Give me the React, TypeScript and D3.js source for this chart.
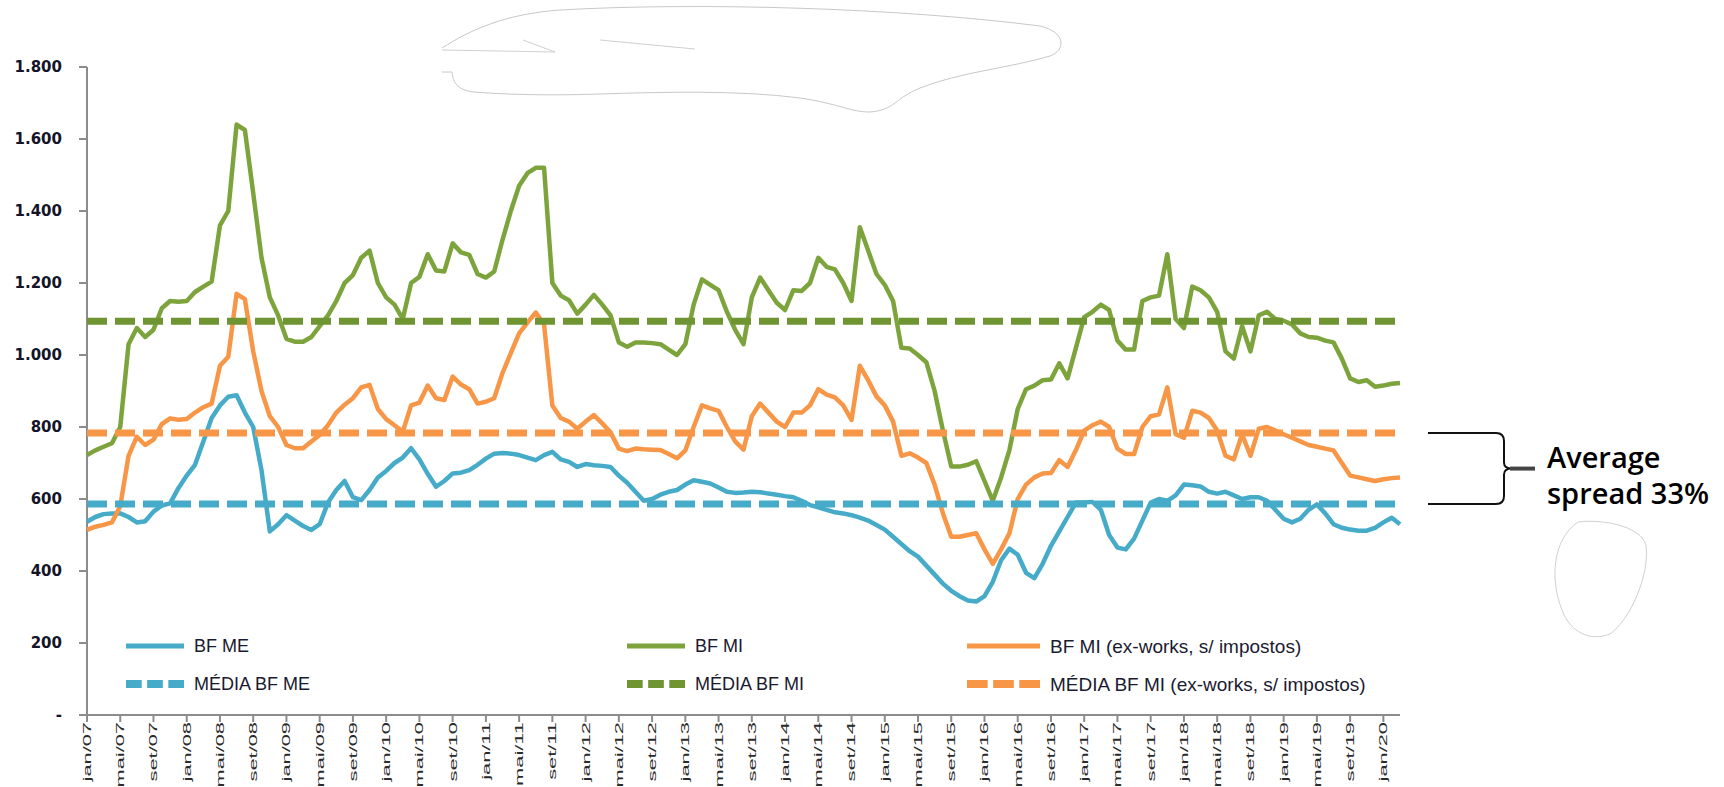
import React from "react";
import * as d3 from "d3";

// monthly series jan/07 .. mar/20
const bfME = [
  537, 550, 558, 560, 560, 550, 535, 538, 565, 582,
  588, 630, 665, 695, 760, 825, 860, 884, 888, 840,
  800, 680, 510, 530, 555, 540, 525, 514, 530, 590,
  625, 650, 605, 597, 625, 660, 678, 700, 715, 741,
  710, 670, 634, 650, 671, 673, 680, 695, 712, 726,
  728, 726, 722, 715, 708, 722, 731, 710, 703, 689,
  697, 694, 692, 689, 665, 645, 620, 595, 600, 612,
  620, 625, 640, 652, 648, 643, 632, 620, 617, 618,
  620, 619, 615, 612, 608, 605, 595, 583, 577, 570,
  563, 560, 555, 548, 540, 528, 515, 495, 475, 455,
  440, 415, 390, 365, 345, 330, 318, 315, 330, 370,
  430, 462, 445, 395, 380, 420, 470, 510, 550, 590,
  590, 592, 570, 500, 465, 460, 490, 540, 590, 600,
  595, 610, 640, 638, 635, 620, 615, 620, 610, 600,
  605, 605, 595, 570, 545, 535, 545, 570, 585, 560,
  530, 520, 515, 512, 512, 520, 535, 548, 530,
];

const bfMI = [
  722, 735, 745, 755, 800, 1030, 1075, 1050, 1070, 1130,
  1150, 1148, 1150, 1175, 1190, 1204, 1360, 1400, 1640, 1625,
  1450, 1270, 1160, 1110, 1045, 1037, 1037, 1050, 1080, 1110,
  1150, 1200, 1222, 1270, 1290, 1200, 1160, 1140, 1100, 1200,
  1217, 1280, 1235, 1232, 1310, 1285, 1278, 1225, 1215, 1232,
  1320, 1400, 1470, 1505, 1520, 1520, 1200, 1165, 1152, 1115,
  1140, 1167, 1140, 1110, 1035, 1023, 1035, 1035, 1033, 1030,
  1015, 1000, 1030, 1140, 1210, 1195, 1180, 1120, 1070, 1030,
  1160, 1215, 1180, 1145, 1125, 1180, 1178, 1200, 1270, 1245,
  1238, 1200, 1150, 1355, 1290, 1225, 1195, 1150, 1020, 1018,
  1000, 980, 900, 790, 690, 690, 695, 705, 650, 595,
  660, 736, 850, 905, 915, 930, 932, 977, 935, 1020,
  1105, 1120, 1140, 1125, 1040, 1015, 1015, 1150, 1160, 1165,
  1280, 1100, 1075, 1190, 1180, 1160, 1120, 1010, 990, 1080,
  1010, 1110, 1120, 1100, 1095, 1085, 1060, 1050, 1048, 1040,
  1035, 990, 935, 925, 930, 912, 915, 920, 922,
];

const bfMIex = [
  514, 523, 528, 535, 580, 720, 773, 750, 765, 808,
  824, 820, 822, 840, 855, 865, 970, 995, 1170, 1155,
  1010, 900, 830, 800, 750, 741, 741, 760, 778, 805,
  840, 862, 880, 910, 917, 850, 822, 805, 787, 860,
  868, 915, 880, 875, 940, 918, 905, 865, 870, 880,
  950, 1005, 1060, 1090, 1118, 1085, 860, 825, 815, 795,
  815, 833, 810, 785, 740, 733, 740, 738, 737, 736,
  725, 713, 735, 800, 860, 852, 845, 800, 760, 737,
  830, 865, 840, 815, 800, 840, 840, 860, 905, 890,
  882, 860, 820, 970, 930, 885, 860, 815, 720, 727,
  715, 700, 640, 560, 495, 495, 500, 505, 460, 420,
  460, 505, 600, 640, 660, 671, 672, 708, 689, 736,
  790, 805, 815, 800, 740, 725, 725, 800, 830, 835,
  910, 780, 770, 845, 840, 825, 790, 720, 710, 780,
  720, 795, 800, 790, 780, 770, 760, 750, 745, 740,
  735, 700, 665, 660, 655, 650, 655, 658, 660,
];

const mediaME = 586;
const mediaMI = 1094;
const mediaMIex = 783;

const yTicks = [0, 200, 400, 600, 800, 1000, 1200, 1400, 1600, 1800];

const xTickLabels = [
  "jan/07", "mai/07", "set/07", "jan/08", "mai/08", "set/08", "jan/09", "mai/09", "set/09",
  "jan/10", "mai/10", "set/10", "jan/11", "mai/11", "set/11", "jan/12", "mai/12", "set/12",
  "jan/13", "mai/13", "set/13", "jan/14", "mai/14", "set/14", "jan/15", "mai/15", "set/15",
  "jan/16", "mai/16", "set/16", "jan/17", "mai/17", "set/17", "jan/18", "mai/18", "set/18",
  "jan/19", "mai/19", "set/19", "jan/20",
];

const legendLabels = [
  "BF ME", "BF MI", "BF MI (ex-works, s/ impostos)",
  "MÉDIA BF ME", "MÉDIA BF MI", "MÉDIA BF MI (ex-works, s/ impostos)",
];

const BLUE = "#46abc8";
const GREEN = "#7da43c";
const GREEN_DK = "#6e9532";
const ORANGE = "#f79646";

const W = 1724;
const H = 787;

const fmt = d3.formatLocale({ decimal: ",", thousands: ".", grouping: [3], currency: ["", ""] }).format(",");

export default function App() {
  const x = d3.scaleLinear().domain([0, bfME.length - 1]).range([87, 1400]);
  const y = d3.scaleLinear().domain([0, 1800]).range([715, 67]);
  const line = d3.line<number>().x((_, i) => x(i)).y((d) => y(d));

  const solid = [
    { data: bfME, color: BLUE },
    { data: bfMI, color: GREEN },
    { data: bfMIex, color: ORANGE },
  ];
  const means = [
    { v: mediaME, color: BLUE },
    { v: mediaMI, color: GREEN_DK },
    { v: mediaMIex, color: ORANGE },
  ];

  // legend: 2 rows x 3 cols
  const legCols = [126, 627, 967];
  const legLen = [58, 58, 73];
  const legRows = [646, 684];
  const legColors = [BLUE, GREEN, ORANGE, BLUE, GREEN_DK, ORANGE];

  const yTop = y(mediaMIex);
  const yBot = y(mediaME);
  const yMid = (yTop + yBot) / 2;
  const bx0 = 1428, bx1 = 1504;
  const bracket =
    `M${bx0},${yTop} L${bx1 - 8},${yTop} Q${bx1},${yTop} ${bx1},${yTop + 8} ` +
    `L${bx1},${yMid - 6} Q${bx1},${yMid} ${bx1 + 8},${yMid} ` +
    `Q${bx1},${yMid} ${bx1},${yMid + 6} L${bx1},${yBot - 8} ` +
    `Q${bx1},${yBot} ${bx1 - 8},${yBot} L${bx0},${yBot}`;

  return (
    <svg width={W} height={H} style={{ position: "absolute", left: 0, top: 0, background: "#fff" }}>
      {/* scribbles over the original title */}
      <path
        d="M442,48 C470,30 505,14 560,10 C700,2 900,8 1040,26 C1066,32 1066,50 1050,56 C1010,68 960,72 920,88 C895,98 895,110 870,112 C850,112 840,104 800,98 C740,90 660,92 600,94 C540,96 500,94 474,92 C455,90 453,80 452,72 L442,72"
        fill="#fff" stroke="#c8c8c8" strokeWidth={1}
      />
      <path d="M442,50 L555,52 L523,40 M600,40 L695,49" fill="none" stroke="#d0d0d0" strokeWidth={1} />
      <path
        d="M1578,522 C1600,519 1640,525 1646,545 C1650,575 1630,620 1610,634 C1590,642 1570,632 1562,610 C1550,580 1552,540 1578,522 Z"
        fill="#fff" stroke="#d0d0d0" strokeWidth={1}
      />

      {/* axes */}
      <line x1={87} x2={87} y1={y(1800)} y2={y(0)} stroke="#8c8c8c" strokeWidth={2} />
      <line x1={80} x2={1400} y1={y(0)} y2={y(0)} stroke="#8c8c8c" strokeWidth={2} />
      {yTicks.map((t) => (
        <g key={t}>
          <line x1={79} x2={87} y1={y(t)} y2={y(t)} stroke="#8c8c8c" strokeWidth={2} />
          <text
            x={62} y={y(t)} dy="0.36em" textAnchor="end"
            fontFamily="DejaVu Sans, Verdana, sans-serif" fontWeight="bold" fontSize={15} fill="#141428"
          >
            {t === 0 ? "-" : fmt(t)}
          </text>
        </g>
      ))}
      {xTickLabels.map((lab, k) => {
        const px = x(k * 4);
        return (
          <g key={lab}>
            <line x1={px} x2={px} y1={y(0)} y2={y(0) + 7} stroke="#8c8c8c" strokeWidth={2} />
            <text
              transform={`translate(${px},722) rotate(-90) scale(1.9,1)`}
              textAnchor="end" dominantBaseline="central"
              fontFamily="Liberation Sans, Arial, sans-serif" fontSize={11.5} fill="#2a2a2a"
            >
              {lab}
            </text>
          </g>
        );
      })}

      {/* series */}
      {solid.map((s, k) => (
        <path key={k} d={line(s.data) || ""} fill="none" stroke={s.color} strokeWidth={4.5} strokeLinejoin="round" />
      ))}
      {means.map((m, k) => (
        <line key={k} x1={x(0)} x2={x(bfME.length - 1)} y1={y(m.v)} y2={y(m.v)}
          stroke={m.color} strokeWidth={7} strokeDasharray="20 8" />
      ))}

      {/* legend */}
      {legendLabels.map((lab, k) => {
        const c = k % 3;
        const cx = legCols[c];
        const cy = legRows[Math.floor(k / 3)];
        const dashed = k >= 3;
        const len = legLen[c];
        const dash = (len - 2 * 5.5) / 3;
        return (
          <g key={lab}>
            <line x1={cx} x2={cx + len} y1={cy} y2={cy} stroke={legColors[k]}
              strokeWidth={dashed ? 8 : 5} strokeDasharray={dashed ? `${dash} 5.5` : undefined} />
            <text x={cx + len + 10} y={cy} dy="0.35em"
              fontFamily="Liberation Sans, Arial, sans-serif" fontSize={c === 2 ? 19 : 18} fill="#1a1a30">
              {lab}
            </text>
          </g>
        );
      })}

      {/* spread annotation */}
      <path d={bracket} fill="none" stroke="#111" strokeWidth={2} />
      <line x1={bx1 + 6} x2={1535} y1={yMid} y2={yMid} stroke="#444" strokeWidth={4} />
      <text x={1547} y={yMid - 1} fontFamily="Open Sans, sans-serif" fontWeight={600} fontSize={29} fill="#000">
        Average
      </text>
      <text x={1547} y={yBot} fontFamily="Open Sans, sans-serif" fontWeight={600} fontSize={29} fill="#000">
        spread 33%
      </text>
    </svg>
  );
}
